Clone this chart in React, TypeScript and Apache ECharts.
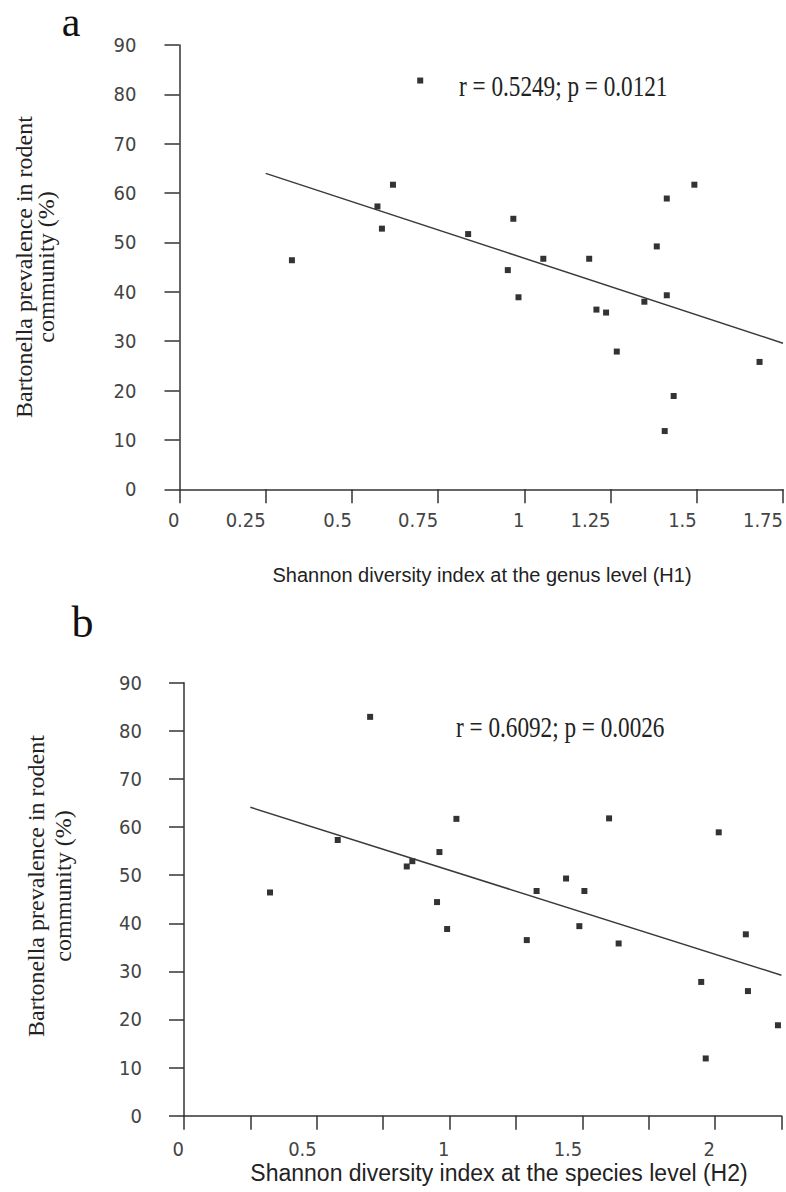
import React, { useEffect, useRef } from "react";
import * as echarts from "echarts";

// Panel a: genus-level Shannon index (H1) vs Bartonella prevalence (%)
const genusH1 = [0.698, 0.326, 0.619, 0.574, 0.587, 0.837, 0.968, 0.952, 0.983, 1.055, 1.188, 1.209, 1.237, 1.348, 1.413, 1.384, 1.413, 1.493, 1.268, 1.682, 1.433, 1.407];
const prevalenceA = [82.8, 46.4, 61.7, 57.3, 52.8, 51.7, 54.8, 44.4, 38.9, 46.7, 46.7, 36.4, 35.8, 38.0, 39.3, 49.2, 58.9, 61.7, 27.9, 25.8, 18.9, 11.8];
const trendA = [[0.25, 64.0], [1.75, 29.6]];

// Panel b: species-level Shannon index (H2) vs Bartonella prevalence (%)
const speciesH2 = [0.701, 0.324, 0.579, 0.839, 0.860, 0.962, 1.026, 0.953, 0.991, 1.601, 2.014, 1.439, 1.328, 1.508, 1.489, 1.291, 1.637, 2.116, 1.948, 2.124, 2.237, 1.965];
const prevalenceB = [82.9, 46.4, 57.3, 51.8, 52.9, 54.8, 61.7, 44.4, 38.8, 61.8, 58.9, 49.3, 46.7, 46.7, 39.4, 36.5, 35.8, 37.7, 27.8, 25.9, 18.8, 11.9];
const trendB = [[0.25, 64.1], [2.25, 29.2]];

const statsA = "r = 0.5249; p = 0.0121";
const statsB = "r = 0.6092; p = 0.0026";
const yTitle1 = "Bartonella prevalence in rodent";
const yTitle2 = "community (%)";
const xTitleA = "Shannon diversity index at the genus level (H1)";
const xTitleB = "Shannon diversity index at the species level (H2)";

const SERIF = "'Liberation Serif', 'Times New Roman', serif";
const SANS = "'Liberation Sans', Arial, sans-serif";
const TICKF = "'DejaVu Sans Condensed', 'DejaVu Sans', sans-serif";

const axisColor = "#333";

function xAxisCfg(gridIndex: number, max: number, labelEvery: number, margin: number) {
  return {
    type: "value",
    gridIndex,
    min: 0,
    max,
    interval: 0.25,
    splitLine: { show: false },
    axisLine: { show: true, onZero: false, lineStyle: { color: axisColor, width: 1.5 } },
    axisTick: { show: true, inside: false, length: 14, lineStyle: { color: axisColor, width: 1.5 } },
    axisLabel: {
      show: true,
      margin,
      align: "right",
      color: "#444",
      fontFamily: TICKF,
      fontSize: 20,
      showMinLabel: true,
      showMaxLabel: true,
      formatter: (v: number) => {
        const q = Math.round(v * 4);
        return q % labelEvery === 0 ? String(Math.round(v * 100) / 100) : "";
      },
    },
  };
}

function yAxisCfg(gridIndex: number, margin: number) {
  return {
    type: "value",
    gridIndex,
    min: 0,
    max: 90,
    interval: 10,
    splitLine: { show: false },
    axisLine: { show: true, onZero: false, lineStyle: { color: axisColor, width: 1.5 } },
    axisTick: { show: true, inside: false, length: 15, lineStyle: { color: axisColor, width: 1.5 } },
    axisLabel: {
      show: true,
      margin,
      color: "#444",
      fontFamily: TICKF,
      fontSize: 20,
      showMinLabel: true,
      showMaxLabel: true,
    },
  };
}

function rotText(text: string, x: number, y: number, size: number) {
  return {
    type: "text",
    x,
    y,
    rotation: Math.PI / 2,
    style: {
      text,
      x: 0,
      y: 0,
      align: "center",
      verticalAlign: "middle",
      fill: "#222",
      font: `${size}px ${SERIF}`,
    },
  };
}

export default function App() {
  const ref = useRef<HTMLDivElement>(null);
  useEffect(() => {
    if (!ref.current) return;
    const chart = echarts.init(ref.current, null, { renderer: "svg" });
    const option = {
      animation: false,
      backgroundColor: "#fff",
      grid: [
        { left: 179.5, top: 45, width: 605.8, height: 444.3 },
        { left: 184, top: 682.7, width: 597.4, height: 433 },
      ],
      xAxis: [xAxisCfg(0, 1.75, 1, 21), xAxisCfg(1, 2.25, 2, 23)],
      yAxis: [yAxisCfg(0, 43), yAxisCfg(1, 42)],
      series: [
        {
          type: "line",
          xAxisIndex: 0,
          yAxisIndex: 0,
          data: trendA,
          symbol: "none",
          silent: true,
          lineStyle: { color: "#3a3a3a", width: 1.5 },
        },
        {
          type: "scatter",
          xAxisIndex: 0,
          yAxisIndex: 0,
          data: genusH1.map((x, i) => [x, prevalenceA[i]]),
          symbol: "rect",
          symbolSize: 6,
          itemStyle: { color: "#000" },
        },
        {
          type: "line",
          xAxisIndex: 1,
          yAxisIndex: 1,
          data: trendB,
          symbol: "none",
          silent: true,
          lineStyle: { color: "#3a3a3a", width: 1.5 },
        },
        {
          type: "scatter",
          xAxisIndex: 1,
          yAxisIndex: 1,
          data: speciesH2.map((x, i) => [x, prevalenceB[i]]),
          symbol: "rect",
          symbolSize: 6,
          itemStyle: { color: "#000" },
        },
      ],
      graphic: [
        { type: "text", x: 71, y: 22, style: { text: "a", align: "center", verticalAlign: "middle", fill: "#111", font: `42px ${SERIF}` } },
        { type: "text", x: 82.5, y: 622, style: { text: "b", align: "center", verticalAlign: "middle", fill: "#111", font: `44px ${SERIF}` } },
        { type: "text", x: 459, y: 87, scaleX: 0.8, style: { text: statsA, align: "left", verticalAlign: "middle", fill: "#222", font: `29px ${SERIF}` } },
        { type: "text", x: 456, y: 728, scaleX: 0.8, style: { text: statsB, align: "left", verticalAlign: "middle", fill: "#222", font: `29px ${SERIF}` } },
        rotText(yTitle1, 24, 267, 24),
        rotText(yTitle2, 46, 267, 24),
        rotText(yTitle1, 36, 886, 24),
        rotText(yTitle2, 63, 886, 24),
        { type: "text", x: 482, y: 575, style: { text: xTitleA, align: "center", verticalAlign: "middle", fill: "#222", font: `20px ${SANS}` } },
        { type: "text", x: 499, y: 1173, style: { text: xTitleB, align: "center", verticalAlign: "middle", fill: "#222", font: `23px ${SANS}` } },
      ],
    };
    chart.setOption(option as any);
    return () => chart.dispose();
  }, []);
  return (
    <div
      ref={ref}
      style={{ position: "absolute", left: 0, top: 0, width: 786, height: 1192, background: "#fff" }}
    />
  );
}
